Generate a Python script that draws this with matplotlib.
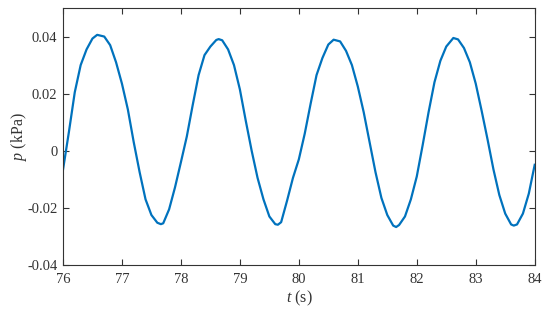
import numpy as np
import matplotlib
matplotlib.use("Agg")
import matplotlib.pyplot as plt

# ---- data ----
t_base = [76.0, 76.1, 76.2, 76.3, 76.4, 76.5, 76.7, 76.8, 76.9, 77.0,
          77.1, 77.2, 77.3, 77.4, 77.5, 77.6, 77.7, 77.8, 77.9, 78.0,
          78.1, 78.2, 78.3, 78.4, 78.5, 78.6, 78.7, 78.8, 78.9, 79.0,
          79.1, 79.2, 79.3, 79.4, 79.5, 79.6, 79.7, 79.8, 79.9, 80.0,
          80.1, 80.2, 80.3, 80.4, 80.5, 80.7, 80.8, 80.9, 81.0,
          81.1, 81.2, 81.3, 81.4, 81.5, 81.6, 81.7, 81.8, 81.9, 82.0,
          82.1, 82.2, 82.3, 82.4, 82.5, 82.7, 82.8, 82.9, 83.0,
          83.1, 83.2, 83.3, 83.4, 83.5, 83.6, 83.7, 83.8, 83.9, 84.0]
p_base = [-0.0067, 0.0065, 0.0205, 0.0300, 0.0355, 0.0393, 0.0400, 0.0370, 0.0310, 0.0235,
          0.0145, 0.0030, -0.0075, -0.0170, -0.0225, -0.0252, -0.0254, -0.0205, -0.0128, -0.0040,
          0.0050, 0.0160, 0.0265, 0.0335, 0.0365, 0.0388, 0.0387, 0.0355, 0.0300, 0.0215,
          0.0105, 0.0000, -0.0095, -0.0170, -0.0230, -0.0257, -0.0250, -0.0175, -0.0095, -0.0030,
          0.0060, 0.0165, 0.0265, 0.0325, 0.0372, 0.0383, 0.0350, 0.0300, 0.0225,
          0.0135, 0.0030, -0.0075, -0.0165, -0.0225, -0.0262, -0.0260, -0.0230, -0.0170, -0.0090,
          0.0020, 0.0135, 0.0240, 0.0315, 0.0365, 0.0390, 0.0360, 0.0310, 0.0235,
          0.0140, 0.0040, -0.0065, -0.0155, -0.0220, -0.0258, -0.0258, -0.0220, -0.0150, -0.0049]

peak_t = [76.58, 78.64, 80.59, 82.62]
peak_p = [0.0406, 0.0391, 0.0389, 0.0395]
trough_t = [77.66, 79.645, 81.65, 83.645]
trough_p = [-0.0257, -0.0259, -0.0267, -0.0262]

xticks = [76, 77, 78, 79, 80, 81, 82, 83, 84]
yticks = [-0.04, -0.02, 0, 0.02, 0.04]
ytick_labels = ["-0.04", "-0.02", "0", "0.02", "0.04"]

# merge samples
t_all = np.array(t_base + peak_t + trough_t)
p_all = np.array(p_base + peak_p + trough_p)
order = np.argsort(t_all)
t_all, p_all = t_all[order], p_all[order]

plt.rcParams['font.family'] = ['Liberation Serif', 'DejaVu Serif']
plt.rcParams['mathtext.fontset'] = 'custom'
plt.rcParams['mathtext.it'] = 'Liberation Serif:italic'
plt.rcParams['mathtext.rm'] = 'Liberation Serif'

fig = plt.figure(figsize=(5.5, 3.16), dpi=100)
ax = fig.add_axes([0.1145, 0.1614, 0.8577, 0.8133])

ax.plot(t_all, p_all, color='#0072BD', lw=1.6, solid_joinstyle='round')

ax.set_xlim(76, 84)
ax.set_ylim(-0.04, 0.05)
ax.set_xticks(xticks)
ax.set_xticklabels([str(v) for v in xticks])
ax.set_yticks(yticks)
ax.set_yticklabels(ytick_labels)

axc = '#333333'
for s in ax.spines.values():
    s.set_color(axc)
    s.set_linewidth(0.8)
ax.tick_params(direction='in', top=True, right=True, length=4, width=0.8,
               colors=axc, labelsize=10.5)
ax.tick_params(axis='x', pad=6)
ax.tick_params(axis='y', pad=4)

ax.set_xlabel(r'$\it{t}$ (s)', fontsize=11.5, color=axc, labelpad=2)
ax.set_ylabel(r'$\it{p}$ (kPa)', fontsize=11.5, color=axc, labelpad=-1)

fig.savefig('out.png', dpi=100)
